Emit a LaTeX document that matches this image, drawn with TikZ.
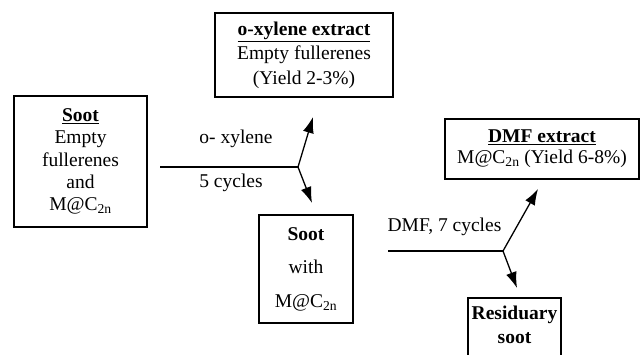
\documentclass[tikz,border=0pt]{standalone}
\usepackage{fontspec}
\setmainfont{Liberation Serif}
\usetikzlibrary{arrows.meta}
\begin{document}
\begin{tikzpicture}[x=1pt,y=-1pt,
  box/.style={draw,line width=1.5pt,inner sep=0pt,align=center},
  txt/.style={font=\fontsize{19.5}{23}\selectfont},
  lbl/.style={txt,inner sep=0pt},
  feed/.style={line width=1.2pt},
  split/.style={line width=1.3pt,-{Latex[length=16pt,width=11pt]}}]
\useasboundingbox (0,0) rectangle (640,354);
\clip (0,0) rectangle (640,354);
% boxes
\node[box,minimum width=133pt,minimum height=131pt,font=\fontsize{19.5}{22.3}\selectfont] (soot) at (80.5,161.5)
  {\underline{\textbf{Soot}}\\Empty\\fullerenes\\and\\M@C\textsubscript{2n}};
\node[box,minimum width=178pt,minimum height=84pt,font=\fontsize{19.5}{24.5}\selectfont] (oxyl) at (304,55)
  {\underline{\textbf{o-xylene extract}}\\Empty fullerenes\\(Yield 2-3\%)};
\node[box,minimum width=94pt,minimum height=108pt,font=\fontsize{19.5}{33.5}\selectfont] (sootwith) at (306,269)
  {\textbf{Soot}\\with\\M@C\textsubscript{2n}};
\node[box,minimum width=194pt,minimum height=60pt,font=\fontsize{19.5}{21}\selectfont] (dmf) at (542,149)
  {\underline{\textbf{DMF extract}}\\M@C\textsubscript{2n} (Yield 6-8\%)};
\draw[line width=1.5pt] (468,380) rectangle (561,298);
\node[lbl,align=center,font=\fontsize{19.5}{24}\selectfont] (resid) at (514.5,325)
  {\textbf{Residuary}\\\textbf{soot}};
% connectors
\coordinate (s1) at (160,167);
\coordinate (j1) at (298,167);
\coordinate (u1) at (313,117);
\coordinate (d1) at (312,203);
\coordinate (s2) at (388,251);
\coordinate (j2) at (503,251);
\coordinate (u2) at (538,189);
\coordinate (d2) at (517,288);
\draw[feed] (s1) -- (j1);
\draw[split] (j1) -- (u1);
\draw[split] (j1) -- (d1);
\draw[feed] (s2) -- (j2);
\draw[split] (j2) -- (u2);
\draw[split] (j2) -- (d2);
% labels
\node[lbl] (l1) at (236,139) {o- xylene};
\node[lbl] (l2) at (231,183) {5 cycles};
\node[lbl] (l3) at (444.5,227) {DMF, 7 cycles};
\end{tikzpicture}
\end{document}
